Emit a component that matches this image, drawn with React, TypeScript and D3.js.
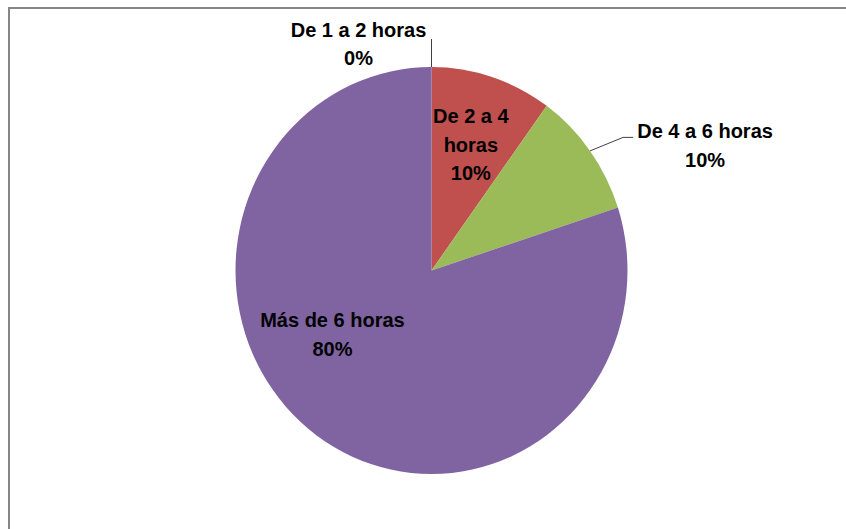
import React from "react";
import * as d3 from "d3";

const categories = ["De 1 a 2 horas", "De 2 a 4 horas", "De 4 a 6 horas", "Más de 6 horas"];
const values = [0, 10, 10, 80];
const colors = ["#4F81BD", "#C0504D", "#9BBB59", "#8064A2"];
// label text lines (wrapped as in the original)
const labelLines = [["De 1 a 2 horas"], ["De 2 a 4", "horas"], ["De 4 a 6 horas"], ["Más de 6 horas"]];

const W = 846;
const H = 529;
const cx = 431.5;
const cy = 270.5;
const R = 200;
const sx = 196 / R;
const sy = 203.5 / R;
const LH = 29;

export default function App() {
  const total = d3.sum(values);
  const pie = d3.pie<number>().sort(null).value((d) => d)(values);
  const arc = d3.arc<d3.PieArcDatum<number>>().innerRadius(0).outerRadius(R);
  const pct = (v: number) => d3.format(".0%")(v / total);

  // polar -> screen, with the slight ellipse scaling
  const pt = (angle: number, r: number): [number, number] => [
    cx + Math.sin(angle) * r * sx,
    cy - Math.cos(angle) * r * sy,
  ];
  const mid = (d: d3.PieArcDatum<number>) => (d.startAngle + d.endAngle) / 2;

  const labels: React.ReactNode[] = [];
  const leaders: React.ReactNode[] = [];
  const font = { fontFamily: "'Liberation Sans', Arial, sans-serif", fontWeight: 700, fontSize: 20, fill: "#000" };

  pie.forEach((d, i) => {
    const lines = [...labelLines[i], pct(values[i])];
    if (i === 0) {
      // outside label, vertical leader going up from the top of the pie
      const [x0, y0] = pt(mid(d), R);
      const y1 = y0 - 28;
      leaders.push(<path key={"l" + i} d={`M${x0},${y0}L${x0},${y1}`} stroke="#404040" strokeWidth={1} fill="none" />);
      lines.forEach((t, k) => {
        labels.push(
          <text key={`t${i}-${k}`} x={x0 - 73} y={y1 - 2.5 + k * 28} textAnchor="middle" {...font}>{t}</text>
        );
      });
    } else if (i === 2) {
      const [x0, y0] = pt(mid(d), R);
      const x1 = x0 + 33;
      const y1 = y0 - 13.5;
      const x2 = x1 + 10;
      leaders.push(
        <path key={"l" + i} d={`M${x0},${y0}L${x1},${y1}L${x2},${y1}`} stroke="#404040" strokeWidth={1} fill="none" />
      );
      lines.forEach((t, k) => {
        labels.push(
          <text key={`t${i}-${k}`} x={x2 + 72} y={y1 + 0.5 + k * LH} textAnchor="middle" {...font}>{t}</text>
        );
      });
    } else if (i === 1) {
      const [x, y] = pt(mid(d), R * 0.65);
      const n = lines.length;
      lines.forEach((t, k) => {
        labels.push(
          <text key={`t${i}-${k}`} x={x} y={y + 7 + (k - (n - 1) / 2) * 28.5} textAnchor="middle" {...font}>{t}</text>
        );
      });
    } else {
      const [x, y] = pt((238 * Math.PI) / 180, R * 0.62);
      const n = lines.length;
      lines.forEach((t, k) => {
        labels.push(
          <text key={`t${i}-${k}`} x={x + 4} y={y + 4 + (k - (n - 1) / 2) * LH} textAnchor="middle" {...font}>{t}</text>
        );
      });
    }
  });

  return (
    <svg width={W} height={H} style={{ position: "absolute", left: 0, top: 0, background: "#fff" }}>
      <rect x={0} y={0} width={W} height={H} fill="#fff" />
      <rect x={9} y={8} width={W + 20} height={H + 20} fill="none" stroke="#868686" strokeWidth={2} />
      <g transform={`translate(${cx},${cy}) scale(${sx},${sy})`}>
        {pie.map((d, i) => (
          <path key={categories[i]} d={arc(d) || ""} fill={colors[i]} />
        ))}
      </g>
      {leaders}
      {labels}
    </svg>
  );
}
